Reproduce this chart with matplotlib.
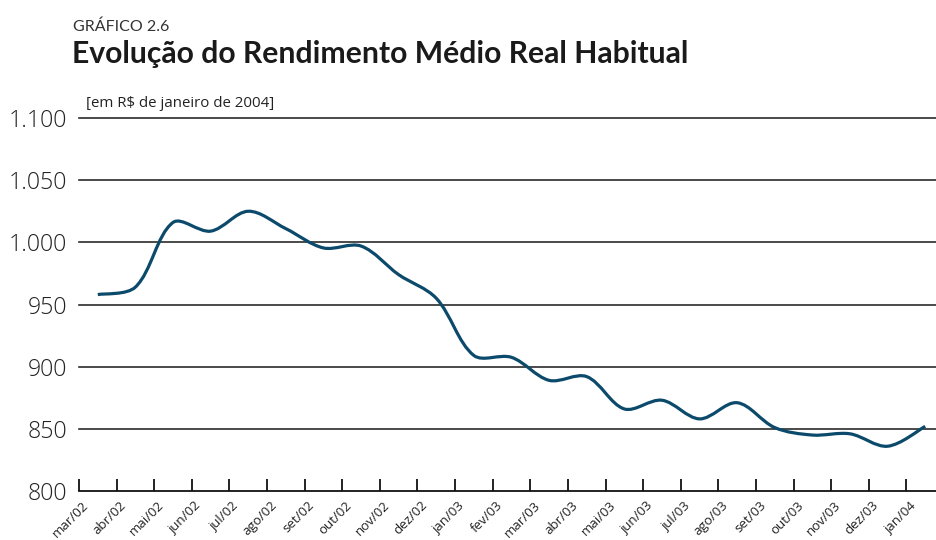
import matplotlib
matplotlib.use("Agg")
import matplotlib.pyplot as plt
from matplotlib.path import Path
from matplotlib.patches import PathPatch
import matplotlib.transforms as mtransforms
import numpy as np

months = ["mar/02", "abr/02", "mai/02", "jun/02", "jul/02", "ago/02", "set/02",
          "out/02", "nov/02", "dez/02", "jan/03", "fev/03", "mar/03", "abr/03",
          "mai/03", "jun/03", "jul/03", "ago/03", "set/03", "out/03", "nov/03",
          "dez/03", "jan/04"]
rendimento = [958, 964, 1016, 1009, 1025, 1011, 995.5, 997, 974, 955, 909, 907.5,
              889, 892, 866, 873, 858, 871, 851, 845, 846, 836, 852]
yticks = [800, 850, 900, 950, 1000, 1050, 1100]
ytick_labels = ["800", "850", "900", "950", "1.000", "1.050", "1.100"]

W, H = 937, 540
fig = plt.figure(figsize=(W / 100, H / 100), dpi=100)
fig.patch.set_facecolor("white")

left, right, bottom, top = 79, 944, 491, 118
ax = fig.add_axes([left / W, 1 - bottom / H, (right - left) / W, (bottom - top) / H])
ax.set_facecolor("white")

n = len(months)
x = np.arange(n, dtype=float)
y = np.array(rendimento, dtype=float)
ax.set_xlim(-0.5, n - 0.5)
ax.set_ylim(800, 1100)

# smoothed line: cubic Bezier through every data point, tangents weighted by
# chord lengths in screen space (similar to spreadsheet "smoothed line")
P = ax.transData.transform(np.column_stack([x, y]))
d = np.hypot(*(P[1:] - P[:-1]).T)
verts = [P[0]]
codes = [Path.MOVETO]
for i in range(n - 1):
    p1, p2 = P[i], P[i + 1]
    p0 = P[i - 1] if i > 0 else P[i]
    p3 = P[i + 2] if i + 2 < n else P[i + 1]
    dl = d[i - 1] if i > 0 else d[i]
    dr = d[i + 1] if i + 2 < n else d[i]
    t1 = p2 - p0
    t2 = p3 - p1
    c1 = p1 + t1 * d[i] / (3 * (dl + d[i]))
    c2 = p2 - t2 * d[i] / (3 * (d[i] + dr))
    verts += [c1, c2, p2]
    codes += [Path.CURVE4] * 3
verts = ax.transData.inverted().transform(np.array(verts))
patch = PathPatch(Path(verts, codes), facecolor="none", edgecolor="#0c4a6c",
                  lw=2.3, capstyle="butt", joinstyle="round", zorder=3)
ax.add_patch(patch)

# gridlines
for v in yticks[1:]:
    ax.axhline(v, color="#2b2b2b", lw=1.2, zorder=1, clip_on=False)

for s in ["top", "right", "left"]:
    ax.spines[s].set_visible(False)
ax.spines["bottom"].set_color("#111111")
ax.spines["bottom"].set_linewidth(1.3)

ax.set_yticks(yticks)
ax.set_yticklabels(ytick_labels)
ax.tick_params(axis="y", length=0, pad=8.5, labelsize=16.7, labelcolor="#222222")
for lab in ax.get_yticklabels():
    lab.set_family(["Open Sans", "DejaVu Sans"])
    lab.set_fontweight("light")

ax.set_xticks(x)
ax.set_xticklabels(months, rotation=45, ha="right", va="center",
                   rotation_mode="anchor")
ax.set_xticks(np.arange(n + 1) - 0.5, minor=True)
ax.tick_params(axis="x", which="major", length=0, pad=9, labelsize=9.5,
               labelcolor="#222222")
ax.tick_params(axis="x", which="minor", direction="in", length=8.5, width=1.3,
               color="#111111")
offset = mtransforms.ScaledTranslation(-11 / 100, 0, fig.dpi_scale_trans)
for lab in ax.get_xticklabels():
    lab.set_family(["Open Sans", "DejaVu Sans"])
    lab.set_transform(lab.get_transform() + offset)

fig.text(73 / W, 1 - 30.7 / H, "GRÁFICO 2.6", fontsize=11.5,
         family=["Lato", "DejaVu Sans"], color="#333333",
         va="baseline", ha="left")
fig.text(72 / W, 1 - 63.5 / H, "Evolução do Rendimento Médio Real Habitual",
         fontsize=21.7, fontweight="bold",
         family=["Lato", "DejaVu Sans"], color="#1a1a1a",
         va="baseline", ha="left")
fig.text(86 / W, 1 - 106.7 / H, "[em R$ de janeiro de 2004]", fontsize=10.8,
         family=["Open Sans", "DejaVu Sans"], color="#222222",
         va="baseline", ha="left")

fig.savefig("out.png", dpi=100, facecolor="white")
